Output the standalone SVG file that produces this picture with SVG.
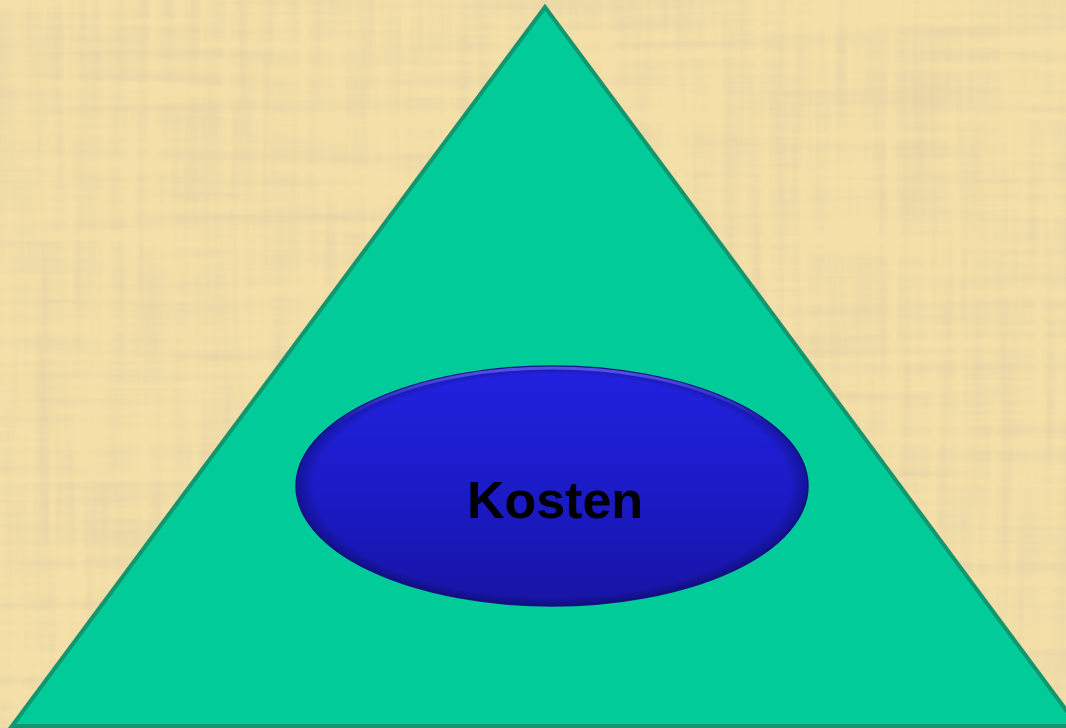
<svg xmlns="http://www.w3.org/2000/svg" width="1066" height="728" viewBox="0 0 1066 728">
  <style>
    .tri { fill: #00cb99; stroke: #12966e; stroke-width: 4; stroke-linejoin: miter; }
    .label { font-family: "Liberation Sans", Arial, sans-serif; font-weight: bold; font-size: 52px; fill: #000; text-anchor: middle; }
  </style>
  <defs>
    <filter id="papyrus" x="0" y="0" width="100%" height="100%">
      <feTurbulence type="fractalNoise" baseFrequency="0.004 0.08" numOctaves="3" seed="4" result="n1"/>
      <feTurbulence type="fractalNoise" baseFrequency="0.08 0.004" numOctaves="3" seed="9" result="n2"/>
      <feComposite in="n1" in2="n2" operator="arithmetic" k2="0.5" k3="0.5" result="n"/>
      <feColorMatrix in="n" type="matrix" values="0 0 0 0 0.80  0 0 0 0 0.66  0 0 0 0 0.38  -2.6 0 0 0 1.55" result="tint"/>
      <feComposite in="tint" in2="SourceGraphic" operator="over"/>
    </filter>
    <linearGradient id="blue" x1="0" y1="0" x2="0" y2="1">
      <stop offset="0" stop-color="#2222e0"/>
      <stop offset="0.5" stop-color="#1b1bc8"/>
      <stop offset="1" stop-color="#1814a4"/>
    </linearGradient>
    <radialGradient id="bevel" cx="0.5" cy="0.5" r="0.5">
      <stop offset="0.93" stop-color="#000" stop-opacity="0"/>
      <stop offset="1" stop-color="#000030" stop-opacity="0.3"/>
    </radialGradient>
    <linearGradient id="hl" x1="0" y1="0" x2="0" y2="1">
      <stop offset="0" stop-color="#6a6aff" stop-opacity="0.7"/>
      <stop offset="0.25" stop-color="#6a6aff" stop-opacity="0"/>
    </linearGradient>
  </defs>
  <rect x="0" y="0" width="1066" height="728" fill="#f4dfa8" filter="url(#papyrus)"/>
  <g id="pyramid">
    <polygon class="tri" points="545,7 12,726 1078,726"/>
  </g>
  <g id="kosten">
    <ellipse cx="552" cy="486" rx="256" ry="120" fill="url(#blue)" stroke="#161690" stroke-width="1.5"/>
    <ellipse cx="552" cy="486" rx="256" ry="120" fill="url(#bevel)"/>
    <ellipse cx="552" cy="486" rx="254" ry="118" fill="none" stroke="url(#hl)" stroke-width="3"/>
    <text class="label" x="555" y="518">Kosten</text>
  </g>
  <g id="connectors"/>
</svg>
